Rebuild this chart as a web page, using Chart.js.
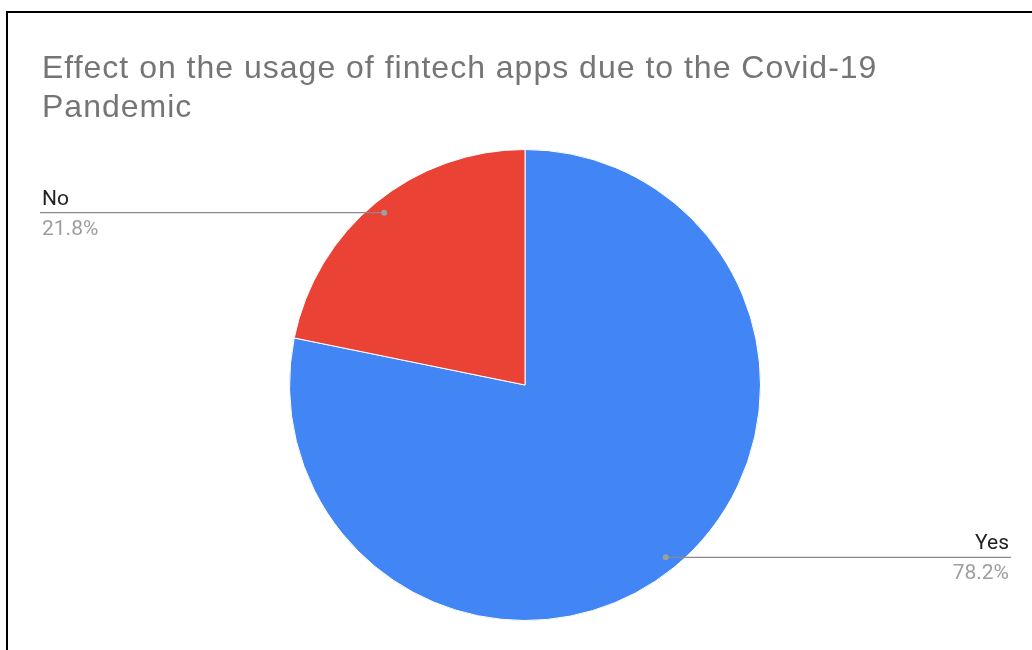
<!DOCTYPE html>
<html>
<head>
<meta charset="utf-8">
<script src="https://cdn.jsdelivr.net/npm/chart.js@4.4.1/dist/chart.umd.min.js"></script>
<style>
  html, body { margin: 0; padding: 0; background: #fff; overflow: hidden; }
  #wrap { position: relative; width: 1032px; height: 650px; }
  #frame { position: absolute; left: 6px; top: 11px; width: 1100px; height: 700px;
           border: 2px solid #000; box-sizing: border-box; pointer-events: none; }
  canvas { position: absolute; left: 0; top: 0; }
</style>
</head>
<body>
<div id="wrap">
  <canvas id="c" width="1032" height="650"></canvas>
  <div id="frame"></div>
</div>
<script>
const titleLines = ['Effect on the usage of fintech apps due to the Covid-19', 'Pandemic'];
const categories = ['Yes', 'No'];
const responses = [78.2, 21.8];
const sliceColors = ['#4285f4', '#ea4335'];

// Title drawn at the top-left of the card
const titlePlugin = {
  id: 'cardTitle',
  afterDraw(chart) {
    const ctx = chart.ctx;
    ctx.save();
    ctx.font = '32px "Liberation Sans", Arial, sans-serif';
    if ('letterSpacing' in ctx) ctx.letterSpacing = '1px';
    ctx.fillStyle = '#757575';
    ctx.textAlign = 'left';
    ctx.textBaseline = 'alphabetic';
    titleLines.forEach((t, i) => ctx.fillText(t, 42, 78 + i * 39));
    ctx.restore();
  }
};

// Leader-line labels: name above the line, percentage below it
const calloutPlugin = {
  id: 'callouts',
  afterDatasetsDraw(chart) {
    const ctx = chart.ctx;
    const meta = chart.getDatasetMeta(0);
    const data = chart.data.datasets[0].data;
    const total = data.reduce((a, b) => a + b, 0);
    ctx.save();
    meta.data.forEach((arc, i) => {
      const mid = (arc.startAngle + arc.endAngle) / 2;
      const r = arc.outerRadius * 0.945;
      const px = arc.x + Math.cos(mid) * r;
      const py = arc.y + Math.sin(mid) * r;
      const left = Math.cos(mid) < 0;
      const endX = left ? 40 : 1011;
      ctx.strokeStyle = '#8a8a8a';
      ctx.lineWidth = 1.2;
      ctx.beginPath();
      ctx.moveTo(px, py);
      ctx.lineTo(endX, py);
      ctx.stroke();
      ctx.fillStyle = '#9e9e9e';
      ctx.beginPath();
      ctx.arc(px, py, 3, 0, Math.PI * 2);
      ctx.fill();
      ctx.textAlign = left ? 'left' : 'right';
      const tx = left ? 42 : 1009;
      ctx.font = '21px Roboto';
      ctx.fillStyle = '#222222';
      ctx.fillText(chart.data.labels[i], tx, py - 8);
      ctx.fillStyle = '#9e9e9e';
      ctx.fillText((data[i] / total * 100).toFixed(1) + '%', tx, py + 22);
    });
    ctx.restore();
  }
};

new Chart(document.getElementById('c'), {
  type: 'pie',
  data: {
    labels: categories,
    datasets: [{
      data: responses,
      backgroundColor: sliceColors,
      borderColor: '#ffffff',
      borderWidth: 1
    }]
  },
  options: {
    responsive: false,
    animation: false,
    layout: { padding: { left: 289, right: 271, top: 148, bottom: 28 } },
    plugins: {
      legend: { display: false },
      tooltip: { enabled: false },
      title: { display: false }
    }
  },
  plugins: [titlePlugin, calloutPlugin]
});
</script>
</body>
</html>
